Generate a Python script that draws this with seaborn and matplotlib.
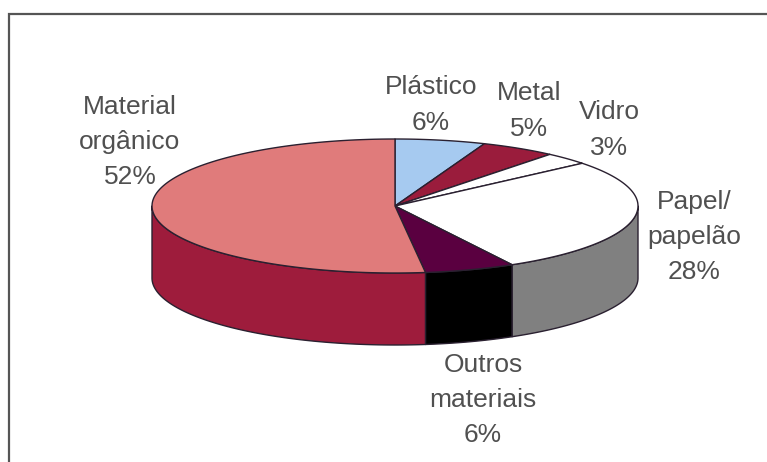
"""Composição do lixo - 3D-looking pie, drawn by hand on a pixel-sized axes."""
import numpy as np
import matplotlib
matplotlib.use("Agg")
import matplotlib.pyplot as plt
import seaborn as sns

# Data ---------------------------------------------------------------------
materials = ["Plástico", "Metal", "Vidro", "Papel/\npapelão", "Outros\nmateriais", "Material\norgânico"]
shares = [6, 5, 3, 28, 6, 52]
top_colors = ["#A6CAF0", "#9A1C3C", "#FFFFFF", "#FFFFFF", "#5A0040", "#E07B7B"]
side_colors = ["#7A90B0", "#6E1029", "#BBBBBB", "#808080", "#000000", "#9E1C3C"]

# Layout (pixels) ----------------------------------------------------------
W, H = 767, 462
CX, CY, RX, RY = 395, 206, 243, 67
DEPTH = 72
LABEL_POS = [(431, 105), (529, 111), (609, 130), (694, 237), (483, 400), (130, 142)]
EDGE = "#2A2030"

sns.set_theme(style="white")
plt.rcParams["font.family"] = ["Liberation Sans", "DejaVu Sans"]


def rim(a0, a1, dy=0.0):
    # angles clockwise from 12 o'clock, degrees
    t = np.radians(np.linspace(a0, a1, 120))
    return CX + RX * np.sin(t), CY + dy - RY * np.cos(t)


fig = plt.figure(figsize=(W / 100, H / 100), dpi=100)
ax = fig.add_axes([0, 0, 1, 1])
ax.set_xlim(0, W)
ax.set_ylim(H, 0)
ax.axis("off")

# frame of the original picture, only top and left sides are visible
ax.plot([9, 9, W], [H, 13.5, 13.5], color="#555555", lw=1.6, solid_joinstyle="miter")

edges = np.concatenate([[0], np.cumsum(shares)]) * 3.6

# walls first, only the front half of the cylinder shows
for i in range(len(shares)):
    a0, a1 = max(edges[i], 90), min(edges[i + 1], 270)
    if a1 <= a0:
        continue
    xt, yt = rim(a0, a1)
    xb, yb = rim(a0, a1, DEPTH)
    ax.fill(np.r_[xt, xb[::-1]], np.r_[yt, yb[::-1]], facecolor=side_colors[i],
            edgecolor=EDGE, lw=1.0, joinstyle="round")

# top face
for i in range(len(shares)):
    x, y = rim(edges[i], edges[i + 1])
    ax.fill(np.r_[CX, x], np.r_[CY, y], facecolor=top_colors[i],
            edgecolor=EDGE, lw=1.0, joinstyle="round")

for name, share, (lx, ly) in zip(materials, shares, LABEL_POS):
    ax.text(lx, ly, f"{name}\n{share}%", ha="center", va="center", color="#505050",
            fontsize=19, linespacing=1.6)

fig.savefig("out.png", dpi=100, facecolor="white")
